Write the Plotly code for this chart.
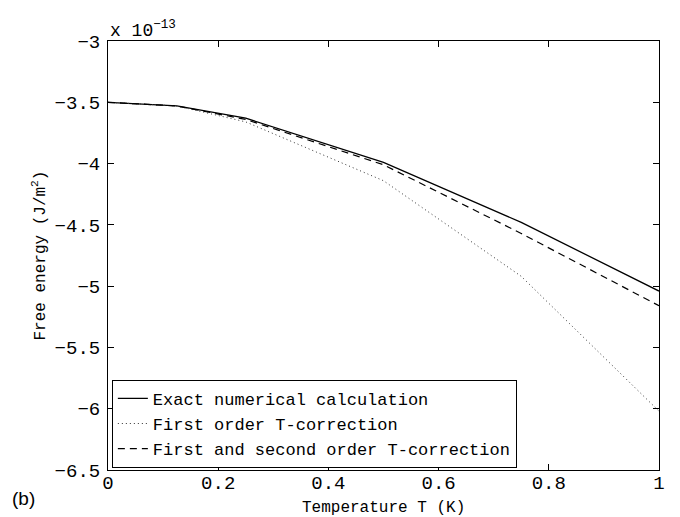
import plotly.graph_objects as go

T = [0, 0.125, 0.25, 0.5, 0.75, 1.0]
exact = [-3.50, -3.53, -3.63, -3.99, -4.48, -5.04]
first_order = [-3.50, -3.53, -3.66, -4.14, -4.92, -6.02]
second_order = [-3.50, -3.53, -3.64, -4.01, -4.57, -5.16]

x_ticks = [0, 0.2, 0.4, 0.6, 0.8, 1]
y_ticks = [-6.5, -6, -5.5, -5, -4.5, -4, -3.5, -3]

mono = "Liberation Mono, Courier New, monospace"

fig = go.Figure()
fig.add_trace(go.Scatter(x=T, y=exact, mode="lines", name="Exact numerical calculation",
                         line=dict(color="black", width=1.3)))
fig.add_trace(go.Scatter(x=T, y=first_order, mode="lines", name="First order T-correction",
                         line=dict(color="#333333", width=1, dash="1px,3px")))
fig.add_trace(go.Scatter(x=T, y=second_order, mode="lines", name="First and second order T-correction",
                         line=dict(color="black", width=1.2, dash="7px,5px")))

axis_common = dict(showline=True, linecolor="black", linewidth=1, mirror="ticks",
                   ticks="inside", ticklen=6, tickcolor="black", showgrid=False,
                   zeroline=False, tickfont=dict(family=mono, size=19, color="black"))

fig.update_layout(
    width=680, height=517,
    margin=dict(l=100, r=29, t=33, b=55),
    paper_bgcolor="white", plot_bgcolor="white",
    xaxis=dict(range=[0, 1], tickvals=x_ticks, ticktext=[str(v) for v in x_ticks],
               ticklabelstandoff=-5, **axis_common),
    yaxis=dict(range=[-6.5, -3], tickvals=y_ticks,
               ticktext=[("\u2212" + str(abs(v))).replace(".0", "") for v in y_ticks],
               ticklabelstandoff=3, **axis_common),
    legend=dict(x=0.007, y=0.005, xanchor="left", yanchor="bottom",
                bgcolor="white", bordercolor="black", borderwidth=1,
                font=dict(family=mono, size=17, color="black"),
                tracegroupgap=0, itemwidth=30),
    showlegend=True,
)

fig.add_annotation(xref="paper", yref="paper", x=0.5, y=0, xanchor="center", yanchor="middle",
                   text="Temperature T (K)", showarrow=False, yshift=-38,
                   font=dict(family=mono, size=16, color="black"))
fig.add_annotation(xref="paper", yref="paper", x=0, y=0.5, xanchor="center", yanchor="middle",
                   text="Free energy (J/m<sup>2</sup>)", showarrow=False, xshift=-68, textangle=-90,
                   font=dict(family=mono, size=16, color="black"))
fig.add_annotation(xref="paper", yref="paper", x=0, y=1, xanchor="left", yanchor="bottom",
                   text="x 10<sup>\u221213</sup>", showarrow=False, yshift=-2,
                   font=dict(family=mono, size=18, color="black"))
fig.add_annotation(xref="paper", yref="paper", x=0, y=0, xanchor="left", yanchor="middle",
                   text="(b)", showarrow=False, xshift=-98, yshift=-28,
                   font=dict(family="Liberation Sans, Arial, sans-serif", size=19, color="black"))

fig.write_html("out.html")
